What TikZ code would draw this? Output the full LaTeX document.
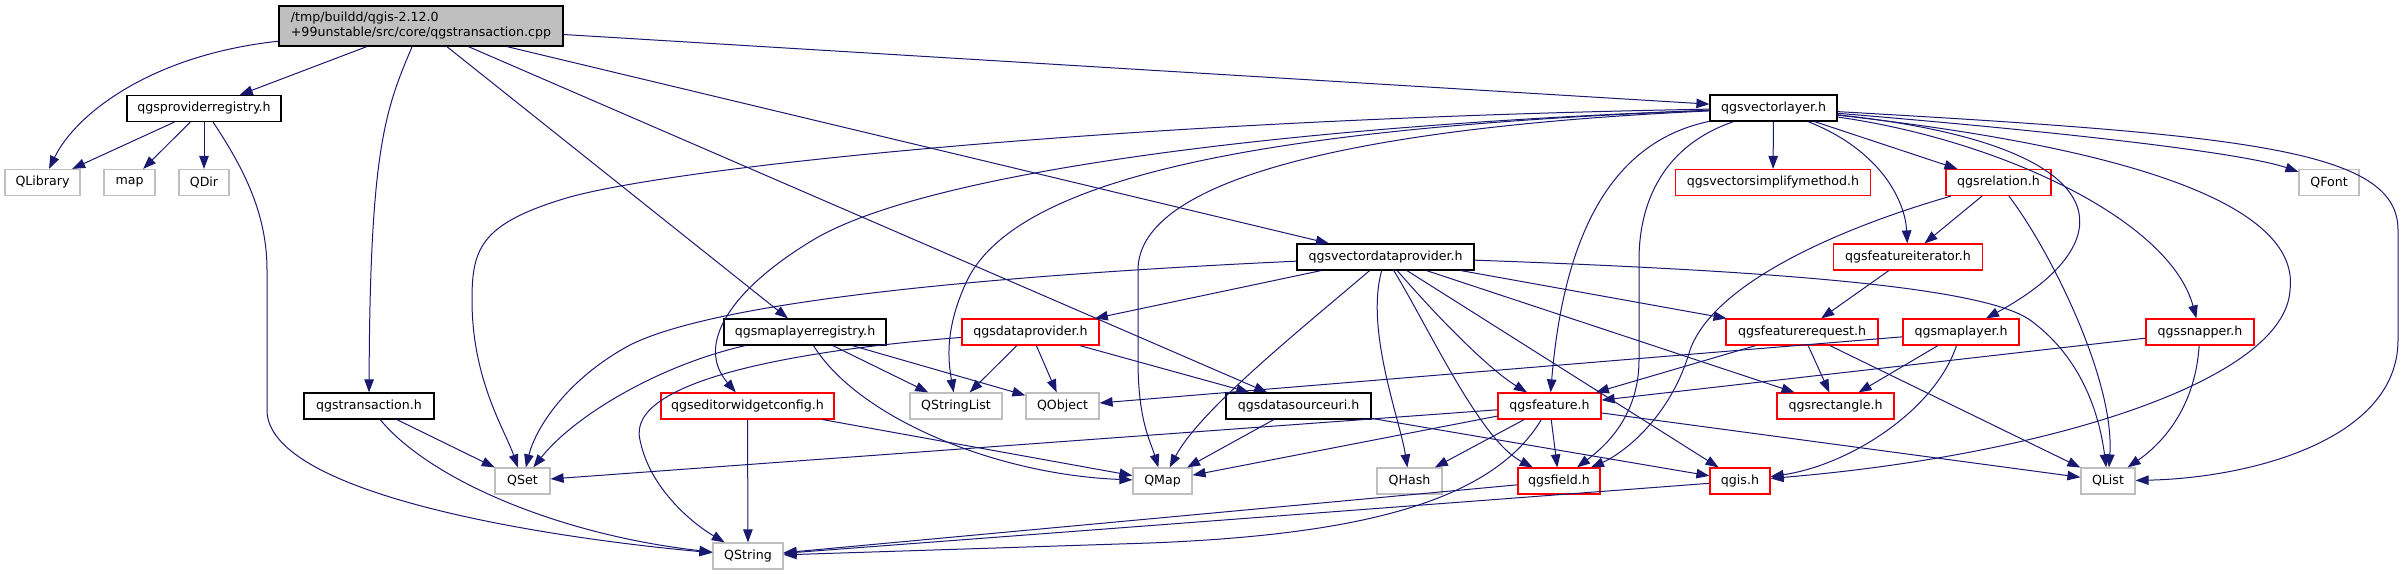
\documentclass[tikz,border=0pt]{standalone}
\usepackage{fontspec}
\setmainfont{DejaVu Sans}
\usetikzlibrary{arrows.meta}

\definecolor{edgeblue}{HTML}{191970}
\definecolor{extgray}{HTML}{BFBFBF}

\begin{document}
\begin{tikzpicture}[x=1pt, y=-1pt,
    every node/.style={rectangle, inner sep=0pt, minimum height=26pt, font=\fontsize{12.6}{15}\selectfont},
    hdr/.style={draw=black, line width=1.2pt, fill=white},
    inc/.style={draw=red, line width=1.2pt, fill=white},
    ext/.style={draw=extgray, line width=1.2pt, fill=white},
    dep/.style={-{Triangle[length=13pt, width=9.5pt]}, draw=edgeblue, line width=1pt}]
      \useasboundingbox (0,0) rectangle (2404,575);

      \node[hdr, fill=extgray, minimum width=284pt, minimum height=40pt, align=left] (main) at (421,26) {/tmp/buildd/qgis-2.12.0\\+99unstable/src/core/qgstransaction.cpp};
      \node[hdr, minimum width=154pt] (prov) at (204,108.5) {qgsproviderregistry.h};
      \node[hdr, minimum width=127pt] (vlayer) at (1773.5,108) {qgsvectorlayer.h};
      \node[ext, minimum width=75pt] (qlib) at (42.5,182.5) {QLibrary};
      \node[ext, minimum width=51pt] (map) at (129.5,182.5) {map};
      \node[ext, minimum width=50pt] (qdir) at (204,182.5) {QDir};
      \node[inc, minimum width=195pt] (simplify) at (1773,182.5) {qgsvectorsimplifymethod.h};
      \node[inc, minimum width=105pt] (relation) at (1998.5,182.5) {qgsrelation.h};
      \node[ext, minimum width=60pt] (qfont) at (2329,182.5) {QFont};
      \node[hdr, minimum width=177pt] (vdp) at (1385.5,257) {qgsvectordataprovider.h};
      \node[inc, minimum width=149pt] (fiter) at (1908,257) {qgsfeatureiterator.h};
      \node[hdr, minimum width=162pt] (mlreg) at (805,332) {qgsmaplayerregistry.h};
      \node[inc, minimum width=137pt] (dprov) at (1030.5,332) {qgsdataprovider.h};
      \node[inc, minimum width=152pt] (freq) at (1802,332) {qgsfeaturerequest.h};
      \node[inc, minimum width=116pt] (mlayer) at (1961,332) {qgsmaplayer.h};
      \node[inc, minimum width=108pt] (snapper) at (2200,332) {qgssnapper.h};
      \node[hdr, minimum width=130pt] (trans) at (369,406) {qgstransaction.h};
      \node[inc, minimum width=173pt] (ewc) at (747.5,406) {qgseditorwidgetconfig.h};
      \node[ext, minimum width=92pt] (qslist) at (956,406) {QStringList};
      \node[ext, minimum width=73pt] (qobj) at (1062.5,406) {QObject};
      \node[hdr, minimum width=145pt] (dsuri) at (1298.5,406) {qgsdatasourceuri.h};
      \node[inc, minimum width=103pt] (feature) at (1549.5,406) {qgsfeature.h};
      \node[inc, minimum width=117pt] (rect) at (1835.5,406) {qgsrectangle.h};
      \node[ext, minimum width=55pt] (qset) at (522.5,481) {QSet};
      \node[ext, minimum width=59pt] (qmap) at (1162.5,481) {QMap};
      \node[ext, minimum width=65pt] (qhash) at (1409.5,481) {QHash};
      \node[inc, minimum width=82pt] (field) at (1559,481) {qgsfield.h};
      \node[inc, minimum width=60pt] (qgis) at (1740,481) {qgis.h};
      \node[ext, minimum width=54pt] (qlist) at (2108,481) {QList};
      \node[ext, minimum width=70pt] (qstring) at (748,556) {QString};

      \draw[dep] (main) .. controls (150,55) and (75,115) .. (qlib);
      \draw[dep] (main) -- (prov);
      \draw[dep] (main) .. controls (385,110) and (370,150) .. (trans);
      \draw[dep] (main) -- (mlreg);
      \draw[dep] (main) -- (dsuri);
      \draw[dep] (main) -- (vdp);
      \draw[dep] (main) -- (vlayer);

      \draw[dep] (prov) -- (qlib);
      \draw[dep] (prov) -- (map);
      \draw[dep] (prov) -- (qdir);
      \draw[dep] (prov) .. controls (245,170) and (267,215) .. (267,270) -- (267,410) .. controls (267,490) and (520,535) .. (qstring);

      \draw[dep] (vlayer) -- (simplify);
      \draw[dep] (vlayer) -- (relation);
      \draw[dep] (vlayer) .. controls (2100,135) and (2250,155) .. (qfont);
      \draw[dep] (vlayer) .. controls (2250,135) and (2398,150) .. (2398,230) -- (2398,340) .. controls (2398,440) and (2250,478) .. (qlist);
      \draw[dep] (vlayer) .. controls (2150,150) and (2300,210) .. (2290,290) .. controls (2285,380) and (2050,455) .. (qgis);
      \draw[dep] (vlayer) .. controls (2000,140) and (2170,220) .. (snapper);
      \draw[dep] (vlayer) .. controls (2120,145) and (2130,240) .. (mlayer);
      \draw[dep] (vlayer) .. controls (1880,150) and (1905,200) .. (fiter);
      \draw[dep] (vlayer) .. controls (1100,120) and (650,170) .. (560,200) .. controls (480,225) and (472,250) .. (472,300) .. controls (472,380) and (505,430) .. (qset);
      \draw[dep] (vlayer) .. controls (1300,125) and (930,170) .. (813,240) .. controls (730,290) and (695,345) .. (ewc);
      \draw[dep] (vlayer) .. controls (1250,128) and (1010,180) .. (965,285) .. controls (945,330) and (948,360) .. (qslist);
      \draw[dep] (vlayer) .. controls (1400,125) and (1138,170) .. (1138,270) -- (1138,360) .. controls (1138,420) and (1150,440) .. (qmap);
      \draw[dep] (vlayer) .. controls (1620,140) and (1565,220) .. (feature);
      \draw[dep] (vlayer) .. controls (1665,145) and (1639,200) .. (1639,260) -- (1639,360) .. controls (1639,420) and (1600,450) .. (field);

      \draw[dep] (relation) .. controls (1850,225) and (1715,280) .. (1690,350) .. controls (1670,420) and (1620,455) .. (field);
      \draw[dep] (relation) -- (fiter);
      \draw[dep] (relation) .. controls (2050,250) and (2115,380) .. (qlist);
      \draw[dep] (fiter) -- (freq);

      \draw[dep] (vdp) -- (dprov);
      \draw[dep] (vdp) .. controls (1300,330) and (1200,410) .. (qmap);
      \draw[dep] (vdp) .. controls (1365,330) and (1400,420) .. (qhash);
      \draw[dep] (vdp) .. controls (1430,330) and (1480,440) .. (field);
      \draw[dep] (vdp) .. controls (1440,320) and (1490,370) .. (feature);
      \draw[dep] (vdp) -- (qgis);
      \draw[dep] (vdp) -- (rect);
      \draw[dep] (vdp) -- (freq);
      \draw[dep] (vdp) .. controls (1750,270) and (1980,285) .. (2030,320) .. controls (2085,360) and (2100,420) .. (qlist);
      \draw[dep] (vdp) .. controls (1000,275) and (720,300) .. (630,345) .. controls (565,380) and (535,430) .. (qset);

      \draw[dep] (mlreg) .. controls (660,365) and (575,415) .. (qset);
      \draw[dep] (mlreg) -- (qslist);
      \draw[dep] (mlreg) -- (qobj);
      \draw[dep] (mlreg) .. controls (860,420) and (1000,475) .. (qmap);

      \draw[dep] (dprov) .. controls (800,350) and (625,380) .. (640,440) .. controls (650,490) and (695,525) .. (qstring);
      \draw[dep] (dprov) -- (qslist);
      \draw[dep] (dprov) -- (qobj);
      \draw[dep] (dprov) -- (dsuri);

      \draw[dep] (ewc) -- (qstring);
      \draw[dep] (ewc) -- (qmap);
      \draw[dep] (dsuri) -- (qmap);
      \draw[dep] (dsuri) -- (qgis);

      \draw[dep] (feature) -- (qset);
      \draw[dep] (feature) -- (qmap);
      \draw[dep] (feature) -- (qhash);
      \draw[dep] (feature) -- (field);
      \draw[dep] (feature) .. controls (1490,505) and (1350,535) .. (1150,543) -- (qstring);
      \draw[dep] (feature) -- (qlist);
      \draw[dep] (field) -- (qstring);
      \draw[dep] (qgis) -- (qstring);

      \draw[dep] (trans) -- (qset);
      \draw[dep] (trans) .. controls (430,480) and (560,535) .. (qstring);

      \draw[dep] (freq) -- (feature);
      \draw[dep] (freq) -- (rect);
      \draw[dep] (freq) -- (qlist);
      \draw[dep] (mlayer) -- (qobj);
      \draw[dep] (mlayer) -- (rect);
      \draw[dep] (mlayer) .. controls (1935,410) and (1850,465) .. (qgis);
      \draw[dep] (snapper) -- (feature);
      \draw[dep] (snapper) .. controls (2195,410) and (2160,445) .. (qlist);
    \end{tikzpicture}
\end{document}
